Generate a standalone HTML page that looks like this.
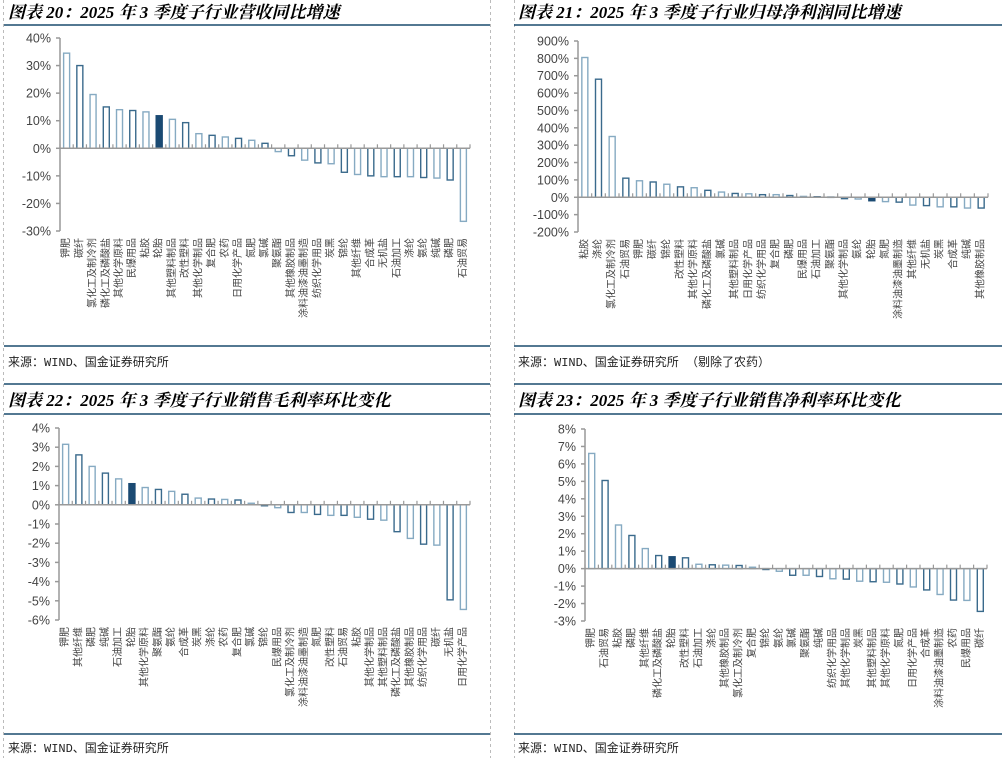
<!DOCTYPE html>
<html><head><meta charset="utf-8">
<style>
body{margin:0;background:#fff;}
svg{display:block;}
.title{font-family:"Liberation Serif","Noto Serif CJK SC",serif;font-weight:bold;font-style:italic;font-size:17px;fill:#000;}
.src{font-family:"Liberation Mono","Noto Sans CJK SC",monospace;font-size:12px;fill:#222;}
.tick{font-family:"Liberation Sans",sans-serif;font-size:12.5px;fill:#444;}
.cat{font-family:"Liberation Sans","Noto Sans CJK SC",sans-serif;font-size:10px;fill:#444;}
</style></head><body>
<svg id="root" width="1002" height="758" xmlns="http://www.w3.org/2000/svg">
<g stroke="#bbb" stroke-dasharray="3,3" stroke-width="1">
<line x1="3.5" y1="0" x2="3.5" y2="758"/><line x1="490.5" y1="0" x2="490.5" y2="758"/><line x1="514.5" y1="0" x2="514.5" y2="758"/>
</g>
<g stroke="#1a4b6e" stroke-width="1.5">
<line x1="4" y1="25" x2="490" y2="25"/><line x1="514" y1="25" x2="1002" y2="25"/>
<line x1="4" y1="346" x2="490" y2="346"/><line x1="514" y1="346" x2="1002" y2="346"/>
<line x1="4" y1="384" x2="490" y2="384"/><line x1="514" y1="384" x2="1002" y2="384"/>
<line x1="4" y1="414" x2="490" y2="414"/><line x1="514" y1="414" x2="1002" y2="414"/>
<line x1="4" y1="734" x2="490" y2="734"/><line x1="514" y1="734" x2="1002" y2="734"/>
</g>
<text class="title" x="8" y="18">图表 20：2025 年 3 季度子行业营收同比增速</text>
<text class="title" x="518" y="18">图表 21：2025 年 3 季度子行业归母净利润同比增速</text>
<text class="title" x="8" y="406">图表 22：2025 年 3 季度子行业销售毛利率环比变化</text>
<text class="title" x="518" y="406">图表 23：2025 年 3 季度子行业销售净利率环比变化</text>
<text class="src" x="8" y="366">来源：WIND、国金证券研究所</text>
<text class="src" x="518" y="366">来源：WIND、国金证券研究所 （剔除了农药）</text>
<text class="src" x="8" y="752">来源：WIND、国金证券研究所</text>
<text class="src" x="518" y="752">来源：WIND、国金证券研究所</text>
<g id="c1"></g>
<g id="c2"></g>
<g id="c3"></g>
<g id="c4"></g>
</svg>
<script>
const cats1=["钾肥","碳纤","氯化工及制冷剂","磷化工及磷酸盐","其他化学原料","民爆用品","粘胶","轮胎","其他塑料制品","改性塑料","其他化学制品","复合肥","农药","日用化学产品","氮肥","氯碱","聚氨酯","其他橡胶制品","涂料油漆油墨制造","纺织化学用品","炭黑","锦纶","其他纤维","合成革","无机盐","石油加工","涤纶","氨纶","纯碱","磷肥","石油贸易"];
const vals1=[34.5,30,19.5,15,14,13.7,13.2,11.8,10.5,9.3,5.3,4.7,4.1,3.6,2.9,1.8,-1.2,-2.7,-4.3,-5.3,-5.6,-8.7,-9.5,-10,-10.3,-10.3,-10.3,-10.6,-10.8,-11.5,-26.5];
const ticks1=[40,30,20,10,0,-10,-20,-30];
const cats2=["粘胶","涤纶","氯化工及制冷剂","石油贸易","钾肥","碳纤","锦纶","改性塑料","其他化学原料","磷化工及磷酸盐","氯碱","其他塑料制品","日用化学产品","纺织化学用品","复合肥","磷肥","民爆用品","石油加工","聚氨酯","其他化学制品","氨纶","轮胎","氮肥","涂料油漆油墨制造","其他纤维","无机盐","炭黑","合成革","纯碱","其他橡胶制品"];
const vals2=[805,680,350,110,95,88,75,60,55,40,30,22,20,15,15,10,5,3,2,-8,-10,-20,-25,-28,-45,-48,-55,-55,-62,-62];
const ticks2=[900,800,700,600,500,400,300,200,100,0,-100,-200];
const cats3=["钾肥","其他纤维","磷肥","纯碱","石油加工","轮胎","其他化学原料","聚氨酯","氨纶","合成革","炭黑","涤纶","农药","复合肥","氯碱","锦纶","民爆用品","氯化工及制冷剂","涂料油漆油墨制造","氮肥","改性塑料","石油贸易","粘胶","其他化学制品","其他塑料制品","磷化工及磷酸盐","其他橡胶制品","纺织化学用品","碳纤","无机盐","日用化学产品"];
const vals3=[3.15,2.6,2.0,1.65,1.35,1.1,0.9,0.8,0.7,0.55,0.35,0.3,0.28,0.25,0.08,-0.05,-0.15,-0.4,-0.4,-0.5,-0.55,-0.55,-0.65,-0.75,-0.8,-1.4,-1.75,-2.05,-2.1,-4.95,-5.45];
const ticks3=[4,3,2,1,0,-1,-2,-3,-4,-5,-6];
const cats4=["钾肥","石油贸易","粘胶","磷肥","其他纤维","磷化工及磷酸盐","轮胎","改性塑料","石油加工","涤纶","其他橡胶制品","氯化工及制冷剂","复合肥","锦纶","氨纶","氯碱","聚氨酯","纯碱","纺织化学用品","其他化学制品","炭黑","其他塑料制品","其他化学原料","氮肥","日用化学产品","合成革","涂料油漆油墨制造","农药","民爆用品","碳纤"];
const vals4=[6.6,5.05,2.5,1.9,1.15,0.75,0.68,0.62,0.25,0.22,0.2,0.18,0.08,-0.05,-0.15,-0.38,-0.38,-0.45,-0.58,-0.6,-0.72,-0.75,-0.78,-0.88,-1.05,-1.22,-1.48,-1.8,-1.82,-2.45];
const ticks4=[8,7,6,5,4,3,2,1,0,-1,-2,-3];
const NS="http://www.w3.org/2000/svg";
function mk(tag,attrs,parent){const e=document.createElementNS(NS,tag);for(const k in attrs)e.setAttribute(k,attrs[k]);parent.appendChild(e);return e;}
function draw(gid,cats,vals,ticks,cfg){
  const g=document.getElementById(gid);
  const max=ticks[0],min=ticks[ticks.length-1];
  const y=v=>cfg.yT+(max-v)/(max-min)*(cfg.yB-cfg.yT);
  const n=vals.length,step=(cfg.x1-cfg.x0)/n;
  const x=i=>cfg.x0+step*(i+0.5);
  const ax=mk('line',{x1:cfg.x0,y1:cfg.yT,x2:cfg.x0,y2:cfg.yB,stroke:'#999','stroke-width':1.5},g);
  
  
  ticks.forEach(t=>{
    const tl=mk('line',{x1:cfg.x0-4,y1:y(t),x2:cfg.x0,y2:y(t),stroke:'#999','stroke-width':1.5},g);
    
    
    const tx=mk('text',{x:cfg.x0-9,y:y(t)+4.5,'text-anchor':'end',class:'tick'},g);
    tx.textContent=t+'%';
    
    
  });
  const bw=6;
  vals.forEach((v,i)=>{
    const dark=i===cfg.hi;
    const col=dark?'#1b4a73':(i%2===0?'#86aac2':'#3a6a8c');
    const top=Math.min(y(v),y(0)),h=Math.abs(y(v)-y(0));
    const r=mk('rect',{x:x(i)-bw/2,y:top,width:bw,height:Math.max(h,0.5),fill:dark?'#1b4a73':'#fff',stroke:col,'stroke-width':1.4},g);
    
    
    const lb=mk('text',{x:0,y:0,'text-anchor':'end','dominant-baseline':'central',class:'cat',transform:'translate('+x(i)+','+(cfg.yB+7)+') rotate(-90)'},g);
    lb.textContent=cats[i];
    
    
  });
  for(let i=0;i<=n;i++){
    const tk=mk('line',{x1:cfg.x0+step*i,y1:y(0)-4,x2:cfg.x0+step*i,y2:y(0),stroke:'#999','stroke-width':1.2},g);
    
    
  }
  const za=mk('line',{x1:cfg.x0,y1:y(0),x2:cfg.x1,y2:y(0),stroke:'#999','stroke-width':1.5},g);
  
  
}
draw('c1',cats1,vals1,ticks1,{x0:60,x1:470,yT:38,yB:231,hi:7});
draw('c2',cats2,vals2,ticks2,{x0:578,x1:988,yT:41,yB:232,hi:21});
draw('c3',cats3,vals3,ticks3,{x0:59,x1:470,yT:428,yB:620,hi:5});
draw('c4',cats4,vals4,ticks4,{x0:585,x1:987,yT:429,yB:621,hi:6});
</script>
</body></html>
